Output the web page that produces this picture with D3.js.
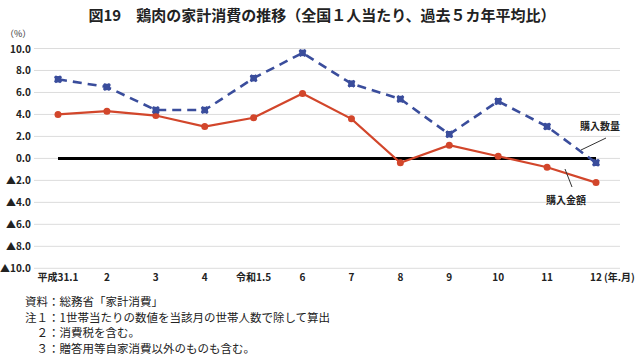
<!DOCTYPE html>
<html>
<head>
<meta charset="utf-8">
<script src="https://cdn.jsdelivr.net/npm/d3@7"></script>
<style>
  body { margin: 0; background: #fff; }
  text { font-family: "Noto Sans CJK JP", "Noto Sans", sans-serif; }
</style>
</head>
<body>
<div id="wrapper"></div>
<script>
const months = ["平成31.1", "2", "3", "4", "令和1.5", "6", "7", "8", "9", "10", "11", "12"];
const quantity = [7.2, 6.5, 4.4, 4.4, 7.3, 9.6, 6.8, 5.4, 2.2, 5.2, 2.9, -0.4];
const amount = [4.0, 4.3, 3.9, 2.9, 3.7, 5.9, 3.6, -0.4, 1.2, 0.2, -0.8, -2.2];
const yTicks = [10, 8, 6, 4, 2, 0, -2, -4, -6, -8, -10];
const notes = [
  "資料：総務省「家計消費」",
  "注１：1世帯当たりの数値を当該月の世帯人数で除して算出",
  "　２：消費税を含む。",
  "　３：贈答用等自家消費以外のものも含む。"
];

const width = 640, height = 358;
const svg = d3.select("#wrapper").append("svg")
  .attr("width", width)
  .attr("height", height);

const xScale = d3.scalePoint()
  .domain(months)
  .range([58, 596]);

const yScale = d3.scaleLinear()
  .domain([-10, 10])
  .range([268.3, 48.5]);

// title
svg.append("text")
  .attr("x", 322).attr("y", 21)
  .attr("text-anchor", "middle")
  .attr("font-size", 15).attr("font-weight", "bold")
  .attr("fill", "#222")
  .text("図19　鶏肉の家計消費の推移（全国１人当たり、過去５カ年平均比）");

svg.append("text")
  .attr("x", 5).attr("y", 37)
  .attr("font-size", 9).attr("fill", "#333")
  .text("（%）");

// grid
svg.append("g").selectAll("line")
  .data(yTicks)
  .join("line")
  .attr("x1", 34).attr("x2", 620)
  .attr("y1", d => yScale(d)).attr("y2", d => yScale(d))
  .attr("stroke", "#dcdcdc").attr("stroke-width", 1);

// y labels
svg.append("g").selectAll("text")
  .data(yTicks)
  .join("text")
  .attr("x", 31)
  .attr("y", d => yScale(d) + 4)
  .attr("text-anchor", "end")
  .attr("font-size", 10).attr("font-weight", "bold")
  .attr("fill", "#222")
  .text(d => d < 0 ? "▲" + Math.abs(d).toFixed(1) : d.toFixed(1));

// x labels
svg.append("g").selectAll("text")
  .data(months)
  .join("text")
  .attr("x", d => xScale(d))
  .attr("y", 281)
  .attr("text-anchor", "middle")
  .attr("font-size", 10).attr("font-weight", "bold")
  .attr("fill", "#222")
  .text(d => d);

svg.append("text")
  .attr("x", 604).attr("y", 281)
  .attr("font-size", 10).attr("font-weight", "bold")
  .attr("fill", "#222")
  .text("(年.月)");

// zero line
svg.append("line")
  .attr("x1", xScale(months[0])).attr("x2", xScale(months[months.length - 1]))
  .attr("y1", yScale(0)).attr("y2", yScale(0))
  .attr("stroke", "#000").attr("stroke-width", 3);

const line = d3.line()
  .x((d, i) => xScale(months[i]))
  .y(d => yScale(d));

// amount (red)
svg.append("path")
  .attr("d", line(amount))
  .attr("fill", "none")
  .attr("stroke", "#d2462b")
  .attr("stroke-width", 2.2);

svg.append("g").selectAll("circle")
  .data(amount)
  .join("circle")
  .attr("cx", (d, i) => xScale(months[i]))
  .attr("cy", d => yScale(d))
  .attr("r", 3.5)
  .attr("fill", "#d2462b");

// quantity (blue dashed)
svg.append("path")
  .attr("d", line(quantity))
  .attr("fill", "none")
  .attr("stroke", "#3a4d9c")
  .attr("stroke-width", 2.6)
  .attr("stroke-dasharray", "9,6");

const sq = d3.symbol().type(d3.symbolSquare).size(42);
const cross = d3.symbol().type(d3.symbolCross).size(40);
const qMarks = svg.append("g").selectAll("g")
  .data(quantity)
  .join("g")
  .attr("transform", (d, i) => `translate(${xScale(months[i])},${yScale(d)})`);
qMarks.append("path").attr("d", sq()).attr("fill", "#3a4d9c");
qMarks.append("path").attr("d", cross()).attr("fill", "#3a4d9c")
  .attr("transform", "rotate(45)");

// annotations
svg.append("text")
  .attr("x", 600).attr("y", 130)
  .attr("text-anchor", "middle")
  .attr("font-size", 10).attr("font-weight", "bold")
  .attr("fill", "#222")
  .text("購入数量");
svg.append("line")
  .attr("x1", 606).attr("y1", 138).attr("x2", 581).attr("y2", 150)
  .attr("stroke", "#333").attr("stroke-width", 1);

svg.append("text")
  .attr("x", 566).attr("y", 204)
  .attr("text-anchor", "middle")
  .attr("font-size", 10).attr("font-weight", "bold")
  .attr("fill", "#222")
  .text("購入金額");
svg.append("line")
  .attr("x1", 565).attr("y1", 169).attr("x2", 572).attr("y2", 187)
  .attr("stroke", "#333").attr("stroke-width", 1);

// notes
svg.append("g").selectAll("text")
  .data(notes)
  .join("text")
  .attr("x", 25)
  .attr("y", (d, i) => 306 + i * 15.5)
  .attr("font-size", 11.5)
  .attr("fill", "#222")
  .text(d => d);
</script>
</body>
</html>
